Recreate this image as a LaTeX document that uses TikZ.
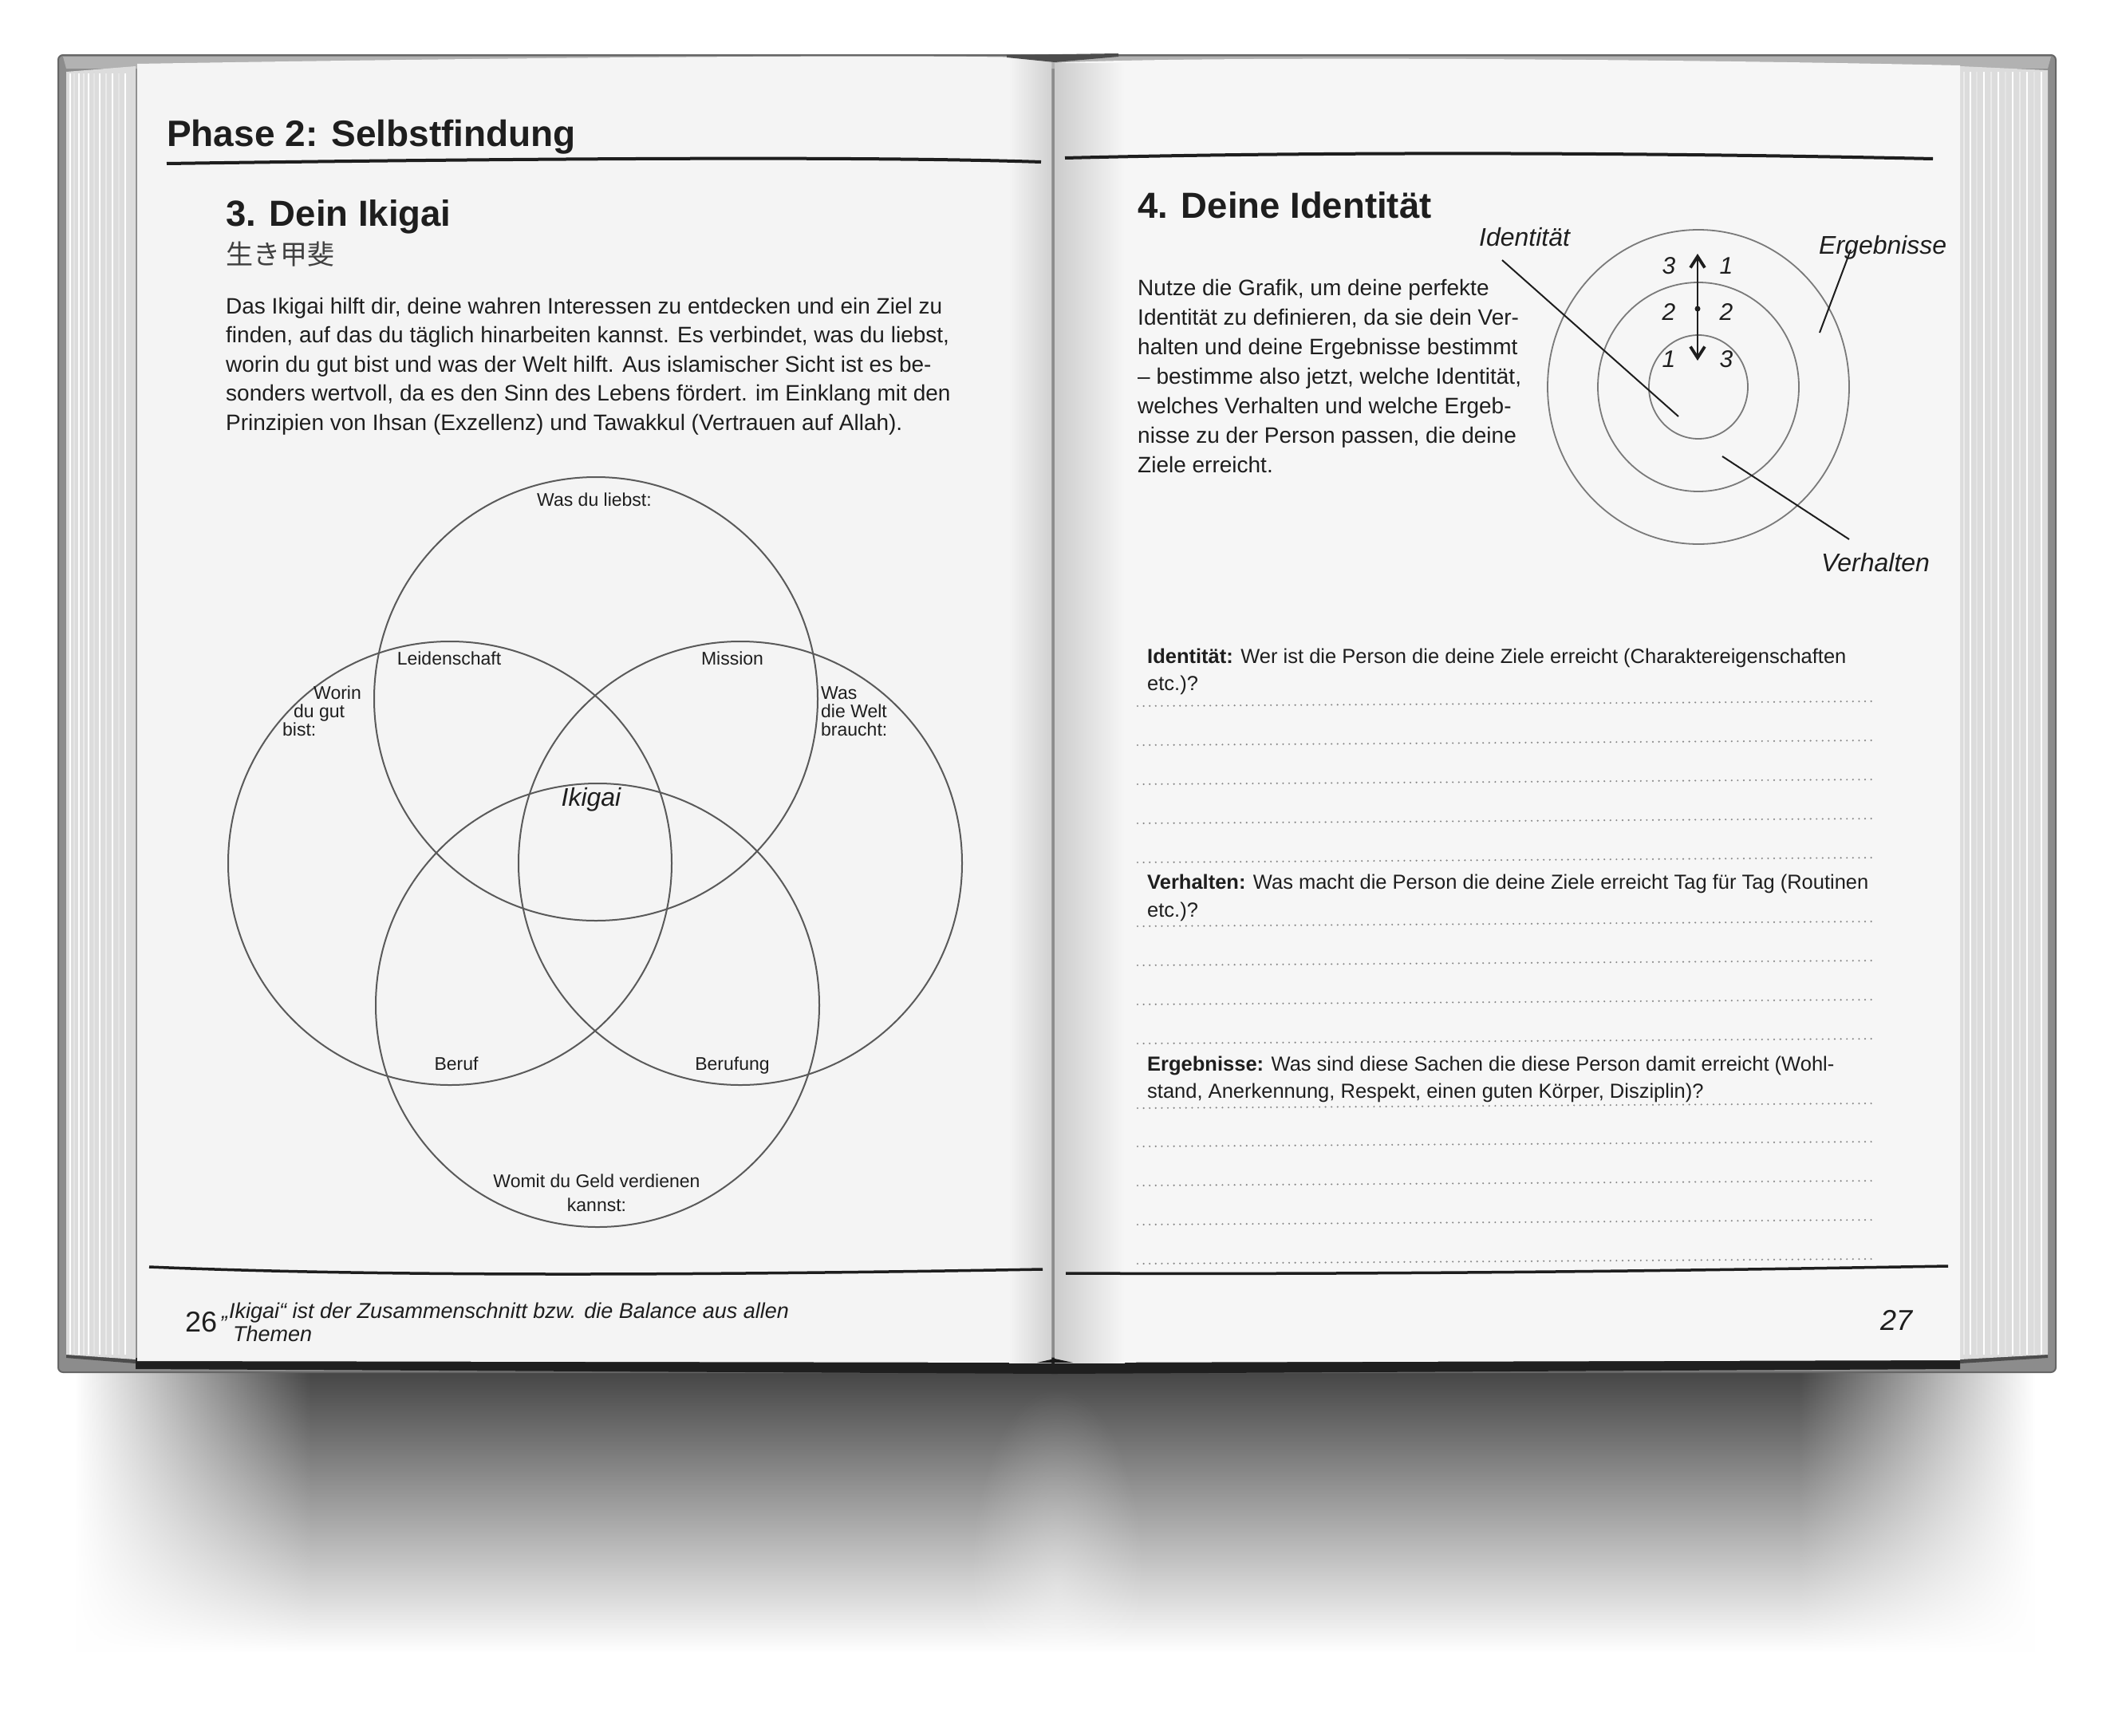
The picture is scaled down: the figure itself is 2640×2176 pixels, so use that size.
\documentclass[tikz,border=0pt]{standalone}
\usepackage{fontspec}
\setmainfont{Liberation Sans}
\newfontfamily\cjk{Noto Sans CJK JP}
\usetikzlibrary{arrows.meta,fadings}
\definecolor{ink}{HTML}{1E1E1E}
\definecolor{vennc}{HTML}{5A5A5A}
\definecolor{ringc}{HTML}{7A7A7A}
\definecolor{dotc}{HTML}{8A8A8A}
\definecolor{pageL}{HTML}{F4F4F4}
\definecolor{pageR}{HTML}{F6F6F6}
\definecolor{coverc}{HTML}{8C8C8C}
\definecolor{stackc}{HTML}{DCDCDC}
\newcommand{\myfs}[2]{\fontsize{#1}{#2}\selectfont}
\pgfdeclarehorizontalshading{shadowh}{100bp}{color(0bp)=(white); color(25bp)=(white); color(31bp)=(black!74); color(69bp)=(black!74); color(75bp)=(white); color(100bp)=(white)}
\tikzfading[name=shadowfade, top color=transparent!0, middle color=transparent!55, bottom color=transparent!100]
\tikzfading[name=blobfade, inner color=transparent!65, outer color=transparent!100]
\tikzset{
  txt/.style={anchor=base west, inner sep=0pt, text=ink},
  body/.style={txt, font=\myfs{28}{34}},
  hd/.style={txt, font=\myfs{45.5}{50}\bfseries},
  lbl/.style={anchor=base, inner sep=0pt, text=ink, font=\myfs{23}{26}},
  lblw/.style={lbl, anchor=base west},
  ilbl/.style={txt, font=\myfs{32}{36}\itshape},
  num/.style={anchor=center, inner sep=0pt, text=ink, font=\myfs{30}{34}\itshape},
  venn/.style={circle, draw=vennc, line width=2, minimum size=556pt, inner sep=0pt},
  ring/.style={draw=ringc, line width=1.8},
  leader/.style={draw=ink, line width=2},
  rulel/.style={draw=ink, line width=4},
  dotl/.style={draw=dotc, line width=2.4, line cap=round, dash pattern=on 0pt off 7.6pt},
  q/.style={txt, font=\myfs{25.5}{30}},
  dblarrow/.style={draw=ink, line width=1.8, >={Straight Barb[length=14pt,width=18pt,line width=3.8pt]}, <->},
}
\begin{document}
\begin{tikzpicture}[x=1pt,y=-1pt]
\useasboundingbox (0,0) rectangle (2640,2176);
\fill[white] (0,0) rectangle (2640,2176);
% shadow
\shade[shading=shadowh, path fading=shadowfade] (95,1712) rectangle (2555,2070);
\fill[white, path fading=blobfade] (1325,1990) ellipse [x radius=110, y radius=250];
% cover
\fill[coverc, draw=black!60, line width=2, rounded corners=6] (73,69) rectangle (2577,1720);
\fill[black!30] (79,71) -- (2571,71) -- (2567,86) -- (83,86) -- cycle;
% bottom dark band
\fill[black!88] (170,1702) -- (2457,1701) -- (2457,1716) -- (1322,1722) -- (170,1716) -- cycle;
\fill[black!70] (83,1695) -- (170,1702) -- (170,1709) -- (83,1702) -- cycle;
\fill[black!70] (2457,1701) -- (2567,1695) -- (2567,1702) -- (2457,1709) -- cycle;
% page stacks
\fill[stackc] (83,90) -- (170,83) -- (170,1704) -- (83,1698) -- cycle;
\fill[stackc] (2457,83) -- (2567,88) -- (2567,1698) -- (2457,1704) -- cycle;
\foreach \x/\c in {88/white,93/black!10,99/white,105/black!8,111/white,118/black!10,125/white,133/black!8,141/white,149/black!10,157/white,165/black!14}{
  \draw[\c, line width=1.2] (\x,92) -- (\x,1698);}
\foreach \x/\c in {2462/black!8,2470/white,2478/black!10,2487/white,2496/black!8,2505/white,2514/black!10,2523/white,2532/black!8,2541/white,2550/black!10,2559/white}{
  \draw[\c, line width=1.2] (\x,90) -- (\x,1698);}
% pages
\fill[pageL] (172,80) .. controls (700,71) and (1200,68) .. (1318,73) -- (1318,1708) -- (172,1706) -- cycle;
\fill[pageR] (1322,79) .. controls (1450,71) and (2000,72) .. (2457,82) -- (2457,1705) -- (1322,1708) -- cycle;
\shade[left color=pageL, right color=black!18] (1265,74) rectangle (1318,1708);
\shade[left color=black!20, right color=pageR] (1322,79) rectangle (1410,1708);
% spine top / bottom
\fill[black!70] (1262,69) -- (1402,67) -- (1402,71) -- (1322,78) -- (1262,72) -- cycle;
\fill[black!90] (1300,1708) -- (1322,1703) -- (1345,1708) -- cycle;

% ---------- left page ----------
\node[txt, font=\myfs{46}{50}\bfseries] (phase) at (209,183) {Phase 2: Selbstfindung};
\coordinate (rlA) at (209,205); \coordinate (rlB) at (1305,203);
\draw[rulel] (rlA) .. controls (700,198) and (1100,196) .. (rlB);
\node[hd] (h3) at (283,283) {3. Dein Ikigai};
\node[txt, font=\myfs{34}{38}\cjk, text=black!75] (jp) at (283,331) {生き甲斐};
\node[body] (p1) at (283,393) {Das Ikigai hilft dir, deine wahren Interessen zu entdecken und ein Ziel zu};
\node[body] (p2) at (283,429.5) {finden, auf das du täglich hinarbeiten kannst. Es verbindet, was du liebst,};
\node[body] (p3) at (283,466) {worin du gut bist und was der Welt hilft. Aus islamischer Sicht ist es be-};
\node[body] (p4) at (283,502.5) {sonders wertvoll, da es den Sinn des Lebens fördert. im Einklang mit den};
\node[body] (p5) at (283,539) {Prinzipien von Ihsan (Exzellenz) und Tawakkul (Vertrauen auf Allah).};

% Venn
\node[venn] (cTop) at (747,876) {};
\node[venn] (cLeft) at (564,1082) {};
\node[venn] (cRight) at (928,1082) {};
\node[venn] (cBot) at (749,1260) {};
\node[lbl] (lLiebst) at (745,634) {Was du liebst:};
\node[lbl] (lLeid) at (563,833) {Leidenschaft};
\node[lbl] (lMiss) at (918,833) {Mission};
\node[lblw] (lW1) at (393,876) {Worin};
\node[lblw] (lW2) at (368,899) {du gut};
\node[lblw] (lW3) at (354,922) {bist:};
\node[lblw] (lR1) at (1029,876) {Was};
\node[lblw] (lR2) at (1029,899) {die Welt};
\node[lblw] (lR3) at (1029,922) {braucht:};
\node[anchor=base, inner sep=0pt, text=ink, font=\myfs{32}{36}\itshape] (lIki) at (741,1010) {Ikigai};
\node[lbl] (lBeruf) at (572,1341) {Beruf};
\node[lbl] (lBerufung) at (918,1341) {Berufung};
\node[lbl] (lGeld1) at (748,1488) {Womit du Geld verdienen};
\node[lbl] (lGeld2) at (748,1518) {kannst:};

% bottom rule + footer left
\coordinate (blA) at (187,1588); \coordinate (blB) at (1307,1591);
\draw[draw=ink, line width=3.5] (blA) .. controls (500,1601) and (900,1598) .. (blB);
\node[txt, font=\myfs{36}{40}] (pg26) at (232,1669) {26};
\node[txt, font=\myfs{27}{30}\itshape] (f1) at (278,1652) {„Ikigai“ ist der Zusammenschnitt bzw. die Balance aus allen};
\node[txt, font=\myfs{27}{30}\itshape] (f2) at (292,1681) {Themen};

% ---------- right page ----------
\coordinate (rrA) at (1335,198); \coordinate (rrB) at (2423,199);
\draw[rulel] (rrA) .. controls (1700,189) and (2100,192) .. (rrB);
\node[hd] (h4) at (1426,273) {4. Deine Identität};
\node[body] (r1) at (1426,370) {Nutze die Grafik, um deine perfekte};
\node[body] (r2) at (1426,407) {Identität zu definieren, da sie dein Ver-};
\node[body] (r3) at (1426,444) {halten und deine Ergebnisse bestimmt};
\node[body] (r4) at (1426,481) {– bestimme also jetzt, welche Identität,};
\node[body] (r5) at (1426,518) {welches Verhalten und welche Ergeb-};
\node[body] (r6) at (1426,555) {nisse zu der Person passen, die deine};
\node[body] (r7) at (1426,592) {Ziele erreicht.};

% rings
\coordinate (ctr) at (2129,485);
\draw[ring] (ctr) ellipse [x radius=189, y radius=197];
\draw[ring] (ctr) ellipse [x radius=126, y radius=131];
\draw[ring] (ctr) ellipse [x radius=62, y radius=65];
\coordinate (arrT) at (2128,318); \coordinate (arrB) at (2128,452);
\draw[dblarrow] (arrT) -- (arrB);
\fill[ink] (2128,387) circle (3.5);
\node[num] (n31) at (2092,333) {3};
\node[num] (n11) at (2164,333) {1};
\node[num] (n22a) at (2092,391) {2};
\node[num] (n22b) at (2164,391) {2};
\node[num] (n13a) at (2092,450) {1};
\node[num] (n13b) at (2164,450) {3};
\node[ilbl] (lId) at (1854,308) {Identität};
\node[ilbl] (lErg) at (2280,318) {Ergebnisse};
\node[ilbl] (lVer) at (2283,716) {Verhalten};
\coordinate (idA) at (1883,326); \coordinate (idB) at (2104,522);
\coordinate (erA) at (2320,313); \coordinate (erB) at (2281,417);
\coordinate (veA) at (2159,572); \coordinate (veB) at (2318,676);
\draw[leader] (idA) -- (idB);
\draw[leader] (erA) -- (erB);
\draw[leader] (veA) -- (veB);

% questions
\node[q] (q1a) at (1438,831) {\textbf{Identität:} Wer ist die Person die deine Ziele erreicht (Charaktereigenschaften};
\node[q] (q1b) at (1438,865) {etc.)?};
\node[q] (q2a) at (1438,1114) {\textbf{Verhalten:} Was macht die Person die deine Ziele erreicht Tag für Tag (Routinen};
\node[q] (q2b) at (1438,1149) {etc.)?};
\node[q] (q3a) at (1438,1342) {\textbf{Ergebnisse:} Was sind diese Sachen die diese Person damit erreicht (Wohl-};
\node[q] (q3b) at (1438,1376) {stand, Anerkennung, Respekt, einen guten Körper, Disziplin)?};
\foreach \yy [count=\i] in {882,931,980,1029,1078,1158,1207,1256,1305,1386,1434,1483,1532,1581}{
  \coordinate (dA\i) at (1426,\yy+3); \coordinate (dB\i) at (2352,\yy-3);
  \draw[dotl] (dA\i) -- (dB\i);}

% bottom rule + footer right
\coordinate (brA) at (1336,1596); \coordinate (brB) at (2442,1587);
\draw[draw=ink, line width=3.5] (brA) .. controls (1800,1598) and (2200,1591) .. (brB);
\node[txt, font=\myfs{36}{40}\itshape] (pg27) at (2357,1667) {27};
\end{tikzpicture}
\end{document}
